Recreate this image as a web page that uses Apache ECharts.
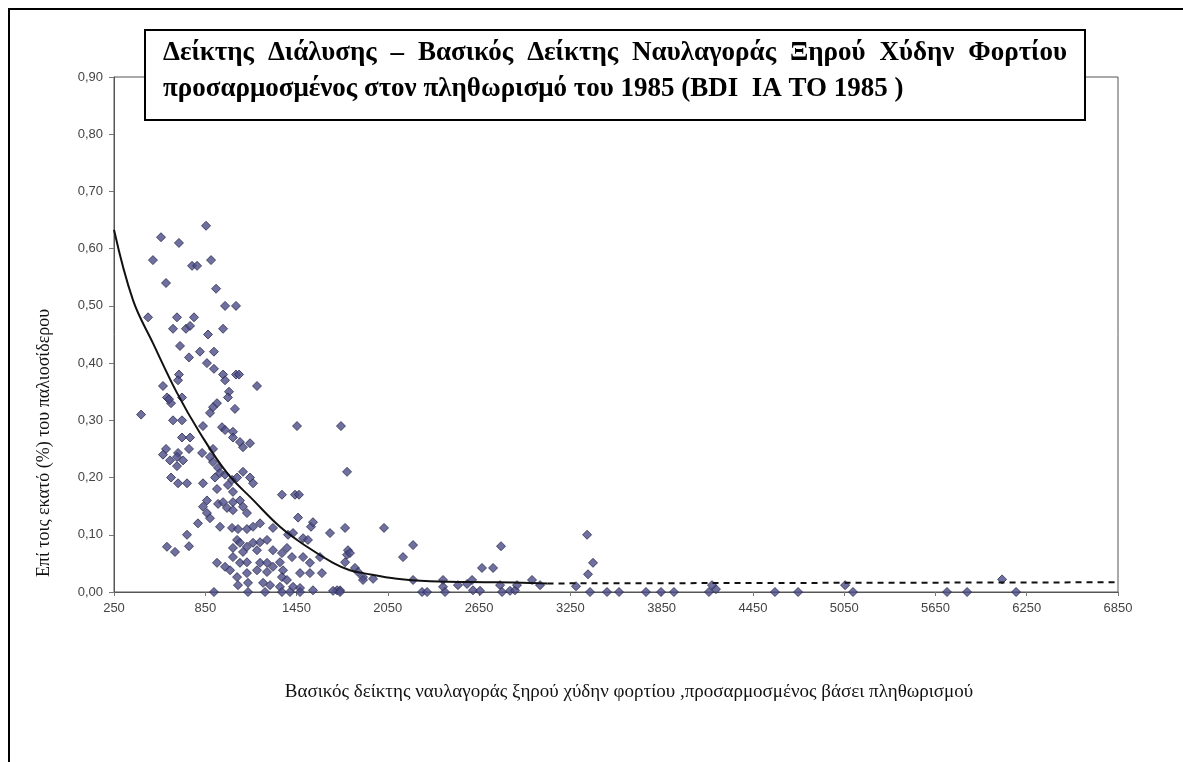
<!DOCTYPE html>
<html>
<head>
<meta charset="utf-8">
<script src="https://cdn.jsdelivr.net/npm/echarts@6.0.0/dist/echarts.min.js"></script>
<style>
html,body{margin:0;padding:0;background:#fff;}
#chart{width:1183px;height:762px;}
</style>
</head>
<body>
<div id="chart"></div>
<script>
// ---- data ----
const scatterX = [638,855,559,677,506,763,796,888,592,921,980,1052,474,664,776,638,723,750,868,967,
684,815,907,743,861,907,967,980,1052,1072,677,671,1190,572,1006,598,625,612,697,999,
927,901,881,1045,428,638,697,835,960,980,1032,1032,697,750,1078,1098,1144,592,743,901,
572,671,664,829,881,618,704,901,934,947,980,664,625,671,730,835,914,1026,999,1059,
1098,1144,1164,927,1032,1354,1440,1466,861,934,967,1032,1078,835,861,993,1032,1098,1124,1460,
802,881,947,1026,1065,1124,1164,1210,1295,1545,1558,1670,1769,730,1394,1427,1493,1525,1059,1078,
1124,1032,1098,1164,1210,1256,1190,598,651,743,1295,1354,1387,1420,1493,1604,1782,1032,1078,1124,
927,980,1013,1210,1256,1295,1341,1361,1538,1190,1256,1124,1059,1473,1538,1617,1354,1387,1065,1131,
1230,1276,1341,1427,1473,1558,1716,1736,907,1131,1243,1354,1407,1473,1453,1742,1782,2025,1788,1801,
1769,1834,1854,1887,1887,1953,2150,2216,2216,1690,1736,2275,2308,2413,2413,2426,2511,2571,2604,2610,
2656,2669,2742,2794,2788,2801,2853,2886,2899,2998,3051,3287,3360,3399,3366,3379,3491,3570,3747,3846,
3931,4161,4207,4181,4595,4747,5056,5108,5726,5858,6088,6180];
const scatterY = [0.84,0.64,0.62,0.61,0.58,0.57,0.57,0.58,0.54,0.53,0.50,0.50,0.48,0.48,0.48,0.46,0.46,0.465,0.45,0.46,
0.43,0.42,0.42,0.41,0.40,0.39,0.38,0.37,0.38,0.38,0.38,0.37,0.36,0.36,0.35,0.34,0.33,0.337,0.34,0.34,
0.33,0.323,0.313,0.32,0.31,0.30,0.30,0.29,0.288,0.283,0.28,0.27,0.27,0.27,0.262,0.253,0.26,0.25,0.25,0.25,
0.24,0.243,0.236,0.243,0.236,0.23,0.23,0.227,0.217,0.208,0.205,0.22,0.20,0.19,0.19,0.19,0.20,0.196,0.187,0.20,
0.21,0.20,0.19,0.18,0.175,0.17,0.17,0.17,0.16,0.154,0.157,0.157,0.16,0.149,0.138,0.147,0.143,0.149,0.138,0.13,
0.12,0.129,0.114,0.112,0.11,0.11,0.114,0.12,0.112,0.114,0.122,0.103,0.112,0.10,0.10,0.103,0.094,0.091,0.091,0.086,
0.079,0.077,0.07,0.086,0.087,0.091,0.073,0.079,0.07,0.08,0.073,0.068,0.077,0.061,0.061,0.061,0.065,0.061,0.051,0.052,
0.051,0.044,0.038,0.051,0.051,0.044,0.052,0.038,0.051,0.038,0.035,0.033,0.026,0.033,0.033,0.033,0.026,0.021,0.012,0.016,
0.016,0.012,0.009,0.009,0.007,0.003,0.003,0.003,0,0,0,0,0,0,0.29,0.29,0.21,0.112,0.073,0.068,
0.052,0.042,0.035,0.026,0.021,0.023,0.061,0.082,0.021,0.002,0,0,0,0.021,0.009,0,0.012,0.014,0.021,0.003,
0.002,0.042,0.042,0.08,0.012,0,0.002,0.003,0.012,0.021,0.012,0.01,0.10,0.051,0.031,0,0,0,0,0,
0,0,0.005,0.012,0,0,0.012,0,0,0,0.022,0];

const trendX = [250,375,506,664,815,993,1164,1341,1519,1690,1801,1887,2110,2327,2768,3100];
const trendY = [0.633,0.51,0.435,0.348,0.278,0.208,0.161,0.114,0.079,0.051,0.038,0.033,0.023,0.019,0.017,0.015];
const forecastX = [3100,6850];
const forecastY = [0.015,0.017];

const xTickValues = [250,850,1450,2050,2650,3250,3850,4450,5050,5650,6250,6850];
const yTickLabels = ['0,00','0,10','0,20','0,30','0,40','0,50','0,60','0,70','0,80','0,90'];

const titleLine1 = 'Δείκτης Διάλυσης – Βασικός Δείκτης Ναυλαγοράς Ξηρού Χύδην Φορτίου';
const titleLine2 = 'προσαρμοσμένος στον πληθωρισμό του 1985 (BDI  IA TO 1985 )';
const yAxisTitle = 'Επί τοις εκατό (%) του παλιοσίδερου';
const xAxisTitle = 'Βασικός δείκτης ναυλαγοράς ξηρού χύδην φορτίου ,προσαρμοσμένος βάσει πληθωρισμού';

// ---- build option ----
const scatterData = scatterX.map((x, i) => [x, scatterY[i]]);
const trendData = trendX.map((x, i) => [x, trendY[i]]);
const forecastData = forecastX.map((x, i) => [x, forecastY[i]]);

// justified first title line: place words individually
const titleFont = 'bold 27px "Liberation Serif", "DejaVu Serif", serif';
const cv = document.createElement('canvas').getContext('2d');
cv.font = titleFont;
const words = titleLine1.split(' ');
const lineLeft = 163, lineRight = 1067;
const wordW = words.map(w => cv.measureText(w).width);
const totalW = wordW.reduce((a, b) => a + b, 0);
const gap = (lineRight - lineLeft - totalW) / (words.length - 1);
const titleWords = [];
let cx = lineLeft;
words.forEach((w, i) => {
  titleWords.push({
    type: 'text', left: cx, top: 40, z: 101,
    style: { text: w, font: titleFont, fill: '#000' }
  });
  cx += wordW[i] + gap;
});

const chart = echarts.init(document.getElementById('chart'), null, { renderer: 'canvas' });
chart.setOption({
  backgroundColor: '#fff',
  animation: false,
  grid: { left: 114, top: 77, right: 65, bottom: 170, show: true, borderColor: '#555', borderWidth: 1 },
  xAxis: {
    type: 'value', min: 250, max: 6850,
    axisLine: { lineStyle: { color: '#555', width: 1 } },
    axisTick: { show: true, length: 4, customValues: xTickValues, lineStyle: { color: '#777' } },
    axisLabel: { customValues: xTickValues, formatter: v => String(v), color: '#444', fontSize: 13, fontFamily: '"Liberation Sans", Arial, sans-serif', margin: 10 },
    splitLine: { show: false }
  },
  yAxis: {
    type: 'value', min: 0, max: 0.9, interval: 0.1,
    axisLine: { show: true, lineStyle: { color: '#555', width: 1 } },
    axisTick: { show: true, length: 5, lineStyle: { color: '#777' } },
    axisLabel: {
      color: '#444', fontSize: 13, fontFamily: '"Liberation Sans", Arial, sans-serif', margin: 11,
      formatter: v => yTickLabels[Math.round(v * 10)]
    },
    splitLine: { show: false }
  },
  series: [
    {
      type: 'scatter', data: scatterData, symbol: 'diamond', symbolSize: 9,
      itemStyle: { color: '#4c4c88', borderColor: '#2a2a4e', borderWidth: 1 },
      z: 2
    },
    {
      type: 'line', data: trendData, smooth: 0.4, showSymbol: false, symbol: 'none',
      lineStyle: { color: '#111', width: 2 }, z: 3
    },
    {
      type: 'line', data: forecastData, showSymbol: false, symbol: 'none',
      lineStyle: { color: '#111', width: 2, type: [6, 5] }, z: 3
    }
  ],
  graphic: [
    { type: 'polyline', z: 100, shape: { points: [[9, 762], [9, 9], [1183, 9]] }, style: { stroke: '#000', lineWidth: 2, fill: null } },
    { type: 'rect', z: 100, shape: { x: 145, y: 30, width: 940, height: 90 }, style: { fill: '#fff', stroke: '#000', lineWidth: 2 } },
    ...titleWords,
    { type: 'text', left: 163, top: 76, z: 101, style: { text: titleLine2, font: titleFont, fill: '#000' } },
    {
      type: 'text', z: 101, x: 44, y: 443, rotation: Math.PI / 2,
      style: { text: yAxisTitle, font: '18px "Liberation Serif", "DejaVu Serif", serif', fill: '#111', align: 'center', verticalAlign: 'middle' }
    },
    {
      type: 'text', z: 101, x: 629, y: 692,
      style: { text: xAxisTitle, font: '19px "Liberation Serif", "DejaVu Serif", serif', fill: '#111', align: 'center', verticalAlign: 'middle' }
    }
  ]
});
</script>
</body>
</html>
